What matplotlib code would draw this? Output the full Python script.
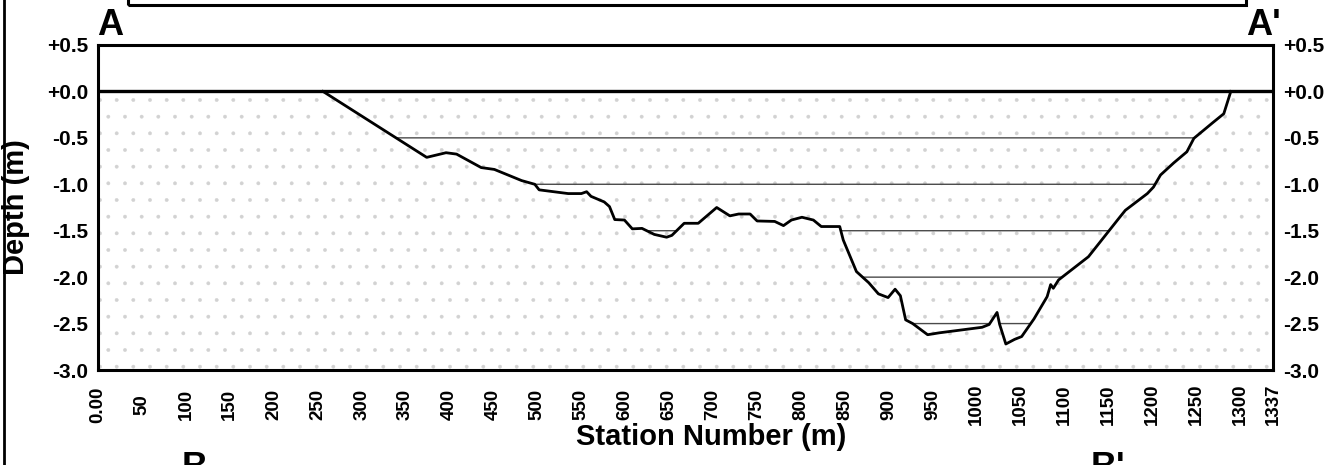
import numpy as np
import matplotlib
matplotlib.use("Agg")
import matplotlib.pyplot as plt
from matplotlib.patches import Rectangle
from matplotlib.lines import Line2D

# ---- data ----
station = [256, 374, 396, 408, 436, 451, 482, 497, 502, 535, 550, 556, 561, 576,
           582, 588, 599, 608, 619, 633, 647, 653, 667, 683, 704, 719, 729, 742,
           750, 770, 780, 789, 801, 814, 823, 844, 848, 863, 877, 888, 899, 907,
           913, 919, 927, 944, 957, 1006, 1014, 1023, 1026, 1033, 1043, 1051,
           1065, 1080, 1084, 1087, 1093, 1127, 1163, 1169, 1194, 1201, 1209,
           1224, 1239, 1247, 1268, 1281, 1289]
depth = [0.0, -0.71, -0.66, -0.675, -0.82, -0.84, -0.96, -1.00, -1.06, -1.10,
         -1.10, -1.08, -1.13, -1.19, -1.24, -1.38, -1.385, -1.48, -1.475, -1.54,
         -1.57, -1.55, -1.42, -1.42, -1.25, -1.34, -1.32, -1.32, -1.395, -1.40,
         -1.445, -1.385, -1.355, -1.385, -1.455, -1.455, -1.60, -1.94, -2.06,
         -2.18, -2.22, -2.13, -2.20, -2.46, -2.50, -2.62, -2.60, -2.54, -2.51,
         -2.38, -2.51, -2.72, -2.67, -2.64, -2.45, -2.21, -2.08, -2.12, -2.03,
         -1.78, -1.35, -1.28, -1.10, -1.03, -0.90, -0.77, -0.65, -0.505, -0.34,
         -0.24, 0.0]
water_levels = [-0.5, -1.0, -1.5, -2.0, -2.5]
x_ticks = [0, 50, 100, 150, 200, 250, 300, 350, 400, 450, 500, 550, 600, 650,
           700, 750, 800, 850, 900, 950, 1000, 1050, 1100, 1150, 1200, 1250,
           1300, 1337]
x_ticklabels = ['0.00'] + [str(v) for v in x_ticks[1:]]
y_ticks = [0.5, 0.0, -0.5, -1.0, -1.5, -2.0, -2.5, -3.0]
y_ticklabels = ['+0.5', '+0.0', '-0.5', '-1.0', '-1.5', '-2.0', '-2.5', '-3.0']

plt.rcParams['font.family'] = ['Liberation Sans', 'DejaVu Sans']
plt.rcParams['hatch.linewidth'] = 0.3

W, H = 1331, 465
fig = plt.figure(figsize=(W / 100, H / 100), dpi=100)
L, R, T, B = 98, 1273, 45, 370
ax = fig.add_axes([L / W, 1 - B / H, (R - L) / W, (B - T) / H])
ax.set_xlim(0, 1337)
ax.set_ylim(-3.0, 0.5)

# stipple below water surface
ax.fill_between([0, 1337], -3.0, 0.0, facecolor='none', edgecolor='#d2d2d2',
                hatch='.', linewidth=0, zorder=1)

# water level lines inside channel
grid = np.linspace(0, 1337, 5000)
bed = np.interp(grid, station, depth, left=0.0, right=0.0)
for lv in water_levels:
    yy = np.ma.masked_where(bed >= lv, np.full_like(grid, lv))
    ax.plot(grid, yy, color='#4a4a4a', lw=1.0, zorder=2)

# water surface
ax.axhline(0.0, color='black', lw=2.4, zorder=3)
# bed profile
ax.plot(station, depth, color='black', lw=2.0, zorder=4, solid_joinstyle='round')

for s in ax.spines.values():
    s.set_linewidth(2.2)

ax.set_xticks(x_ticks)
ax.set_xticklabels(x_ticklabels, rotation=90, fontsize=13.5, fontweight='bold')
for t in ax.get_xticklabels():
    t.set_va('center')
    t.set_ha('center')
ax.tick_params(axis='x', length=0, pad=25)
ax.set_yticks(y_ticks)
ax.set_yticklabels(y_ticklabels, fontsize=15, fontweight='bold')
ax.tick_params(axis='y', length=0, pad=7, left=True, right=True,
               labelleft=True, labelright=True)

fig.text((L + 0.878 * 698) / W, 1 - 437 / H, 'Station Number (m)',
         ha='center', va='center', fontsize=21, fontweight='bold')
fig.text(16 / W, 1 - 207 / H, 'Depth (m)', rotation=90, ha='center',
         va='center', fontsize=21, fontweight='bold')

fig.text(97 / W, 1 - 35 / H, 'A', fontsize=26, fontweight='bold', va='baseline', ha='left')
fig.text(1246 / W, 1 - 35 / H, "A'", fontsize=26, fontweight='bold', va='baseline', ha='left')
fig.text(182 / W, 1 - 478 / H, 'B', fontsize=26, fontweight='bold', va='baseline', ha='left')
fig.text(1091 / W, 1 - 478 / H, "B'", fontsize=26, fontweight='bold', va='baseline', ha='left')

# partial frame of panel above and left border
fig.add_artist(Rectangle((128 / W, 1 - 5 / H), (1246 - 128) / W, 20 / H,
                         transform=fig.transFigure, fill=False, lw=2.2,
                         edgecolor='black', clip_on=False))
fig.add_artist(Line2D([4 / W, 4 / W], [0, 1], transform=fig.transFigure,
                      color='black', lw=2.0))

fig.savefig('out.png', dpi=100)
